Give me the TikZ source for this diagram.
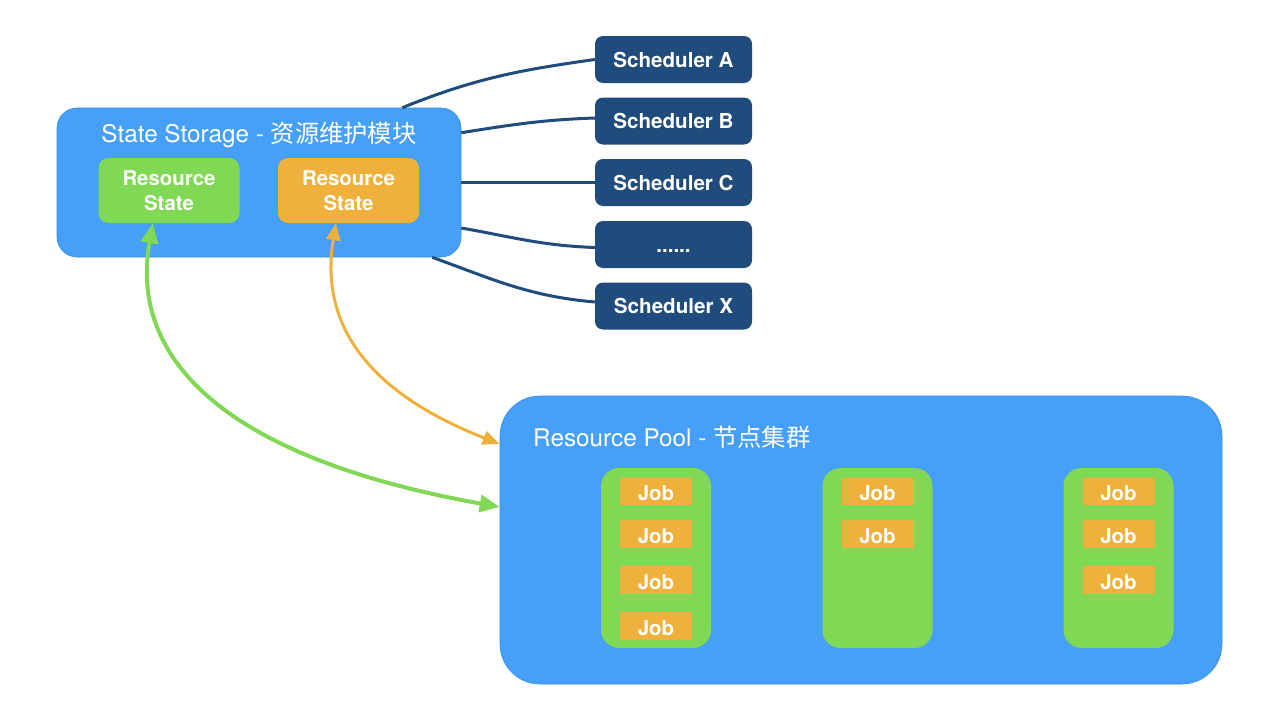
\documentclass[tikz,border=0pt]{standalone}
\usepackage{fontspec}
\setmainfont{TeX Gyre Heros}
\newfontfamily\cjk{Noto Sans CJK SC}
\usetikzlibrary{arrows.meta}
\definecolor{boxblue}{RGB}{70,159,248}
\definecolor{boxedge}{RGB}{52,143,238}
\definecolor{schedblue}{RGB}{31,76,124}
\definecolor{nodegreen}{RGB}{128,216,84}
\definecolor{joborange}{RGB}{239,177,60}
\tikzset{
  container/.style={fill=boxblue, draw=boxedge, line width=0.6pt, inner sep=0pt},
  titletext/.style={text=white, inner sep=0pt, font=\fontsize{24.3}{28}\selectfont},
  sched/.style={fill=schedblue, rounded corners=8pt, minimum width=157pt, minimum height=47pt,
    inner sep=0pt, text=white, font=\bfseries\fontsize{20.6}{24}\selectfont},
  statebox/.style={rounded corners=10pt, minimum width=141pt, minimum height=65pt, inner sep=0pt,
    text=white, align=center, font=\bfseries\fontsize{20.4}{25}\selectfont},
  column/.style={fill=nodegreen, rounded corners=18pt, minimum width=110pt, minimum height=180pt, inner sep=0pt},
  job/.style={fill=joborange, minimum width=72pt, minimum height=27.5pt, inner sep=0pt,
    text height=18.5pt, text depth=0pt,
    text=white, font=\bfseries\fontsize{20.4}{24}\selectfont},
  link/.style={draw=schedblue, line width=3pt},
  garrow/.style={draw=nodegreen, line width=4pt,
    {Triangle[length=20pt,width=17pt]}-{Triangle[length=20pt,width=17pt]}},
  oarrow/.style={draw=joborange, line width=3pt,
    {Triangle[length=17pt,width=14pt]}-{Triangle[length=17pt,width=14pt]}}
}
\begin{document}
\begin{tikzpicture}[x=1pt,y=-1pt]
\useasboundingbox (0,0) rectangle (1280,720);
% containers
\node[container, rounded corners=20pt, minimum width=404pt, minimum height=149pt] (ss) at (259,182.5) {};
\node[container, rounded corners=40pt, minimum width=722pt, minimum height=288pt] (pool) at (861,540) {};
\node[titletext] (sstitle) at (259,135) {State Storage - {\cjk 资源维护模块}};
\node[titletext, anchor=west] (pooltitle) at (533,437) {Resource Pool - {\cjk 节点集群}};
% state boxes
\node[statebox, fill=nodegreen] (gs) at (169,190.5) {Resource\\State};
\node[statebox, fill=joborange] (os) at (348.5,190.5) {Resource\\State};
% schedulers
\node[sched] (sa) at (673.5,59.5) {Scheduler A};
\node[sched] (sb) at (673.5,121) {Scheduler B};
\node[sched] (sc) at (673.5,182.5) {Scheduler C};
\node[sched] (sd) at (673.5,244.5) {\vphantom{Scheduler}......};
\node[sched] (sx) at (673.5,306) {Scheduler X};
% scheduler links
\draw[link] ([xshift=-59pt]ss.north east) to[out=22, in=188] (sa.west);
\draw[link] ([yshift=-25pt]ss.north east) to[out=9, in=182] ([yshift=3pt]sb.west);
\draw[link] (ss.east) -- (sc.west);
\draw[link] ([yshift=-45.5pt]ss.east) to[out=-10, in=178] ([yshift=-3pt]sd.west);
\draw[link] ([xshift=-29pt]ss.south east) to[out=-20, in=175] ([yshift=4pt]sx.west);
% columns
\node[column] (c1) at (656,558) {};
\node[column] (c2) at (877.5,558) {};
\node[column] (c3) at (1118.5,558) {};
% jobs
\node[job] (j11) at (656,491.5) {Job};
\node[job] (j12) at (656,534) {Job};
\node[job] (j13) at (656,580) {Job};
\node[job] (j14) at (656,626) {Job};
\node[job] (j21) at (877.5,491.5) {Job};
\node[job] (j22) at (877.5,534) {Job};
\node[job] (j31) at (1118.5,491.5) {Job};
\node[job] (j32) at (1118.5,534) {Job};
\node[job] (j33) at (1118.5,580) {Job};
% arrows
\draw[garrow] ([xshift=-16pt]gs.south) .. controls (130,350) and (210,455) .. ([yshift=33pt]pool.west);
\draw[oarrow] ([xshift=-12.5pt]os.south) .. controls (320,320) and (362,390) .. ([yshift=96pt]pool.west);
\end{tikzpicture}
\end{document}
